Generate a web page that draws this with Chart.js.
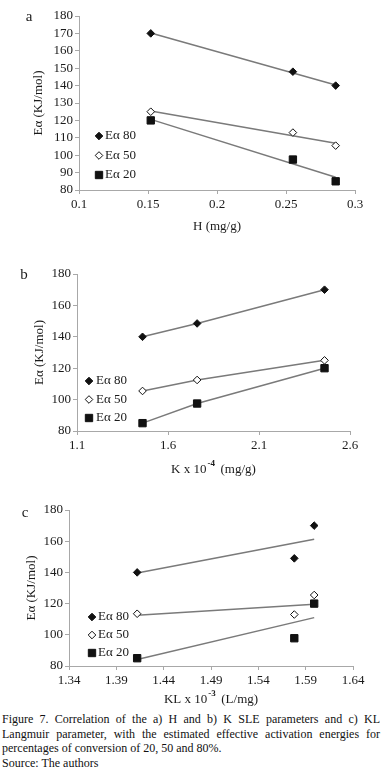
<!DOCTYPE html>
<html>
<head>
<meta charset="utf-8">
<script src="https://cdn.jsdelivr.net/npm/chart.js@4.4.0/dist/chart.umd.min.js"></script>
<style>
  body { margin: 0; background: #fff; width: 382px; height: 773px; position: relative; overflow: hidden; }
  .box { position: absolute; left: 0; width: 382px; }
  .caption { position: absolute; left: 2px; width: 378px; top: 712px; font: 12px "Liberation Serif", "Times New Roman", serif; color: #111; line-height: 14.5px; }
  .just { text-align: justify; text-align-last: justify; }
</style>
</head>
<body>
<div class="box" style="top:0;height:240px"><canvas id="chartA"></canvas></div>
<div class="box" style="top:245px;height:240px"><canvas id="chartB"></canvas></div>
<div class="box" style="top:495px;height:215px"><canvas id="chartC"></canvas></div>
<div class="caption">
  <div class="just">Figure 7. Correlation of the a) H and b) K SLE parameters and c) KL</div>
  <div class="just">Langmuir parameter, with the estimated effective activation energies for</div>
  <div>percentages of conversion of 20, 50 and 80%.</div>
  <div>Source: The authors</div>
</div>
<script>
const seriesNames = ['Eα 80', 'Eα 50', 'Eα 20'];

// a) H (mg/g)
const hValues = [0.152, 0.255, 0.286];
const hEa80 = [170, 148, 140];
const hEa50 = [125, 113, 105.5];
const hEa20 = [120, 97.5, 85];
const hTrendX = [0.152, 0.286];
const hTrend80 = [170.2, 140.4];
const hTrend50 = [125.4, 106.9];
const hTrend20 = [120.6, 87.3];
const hTicks = [0.1, 0.15, 0.2, 0.25, 0.3];
const hEaTicks = [80, 90, 100, 110, 120, 130, 140, 150, 160, 170, 180];

// b) K x 10^-4 (mg/g)
const kValues = [1.46, 1.76, 2.46];
const kEa80 = [140, 148.5, 170];
const kEa50 = [105.5, 112.5, 125];
const kEa20 = [85, 97.5, 120];
const kTicks = [1.1, 1.6, 2.1, 2.6];
const kEaTicks = [80, 100, 120, 140, 160, 180];

// c) KL x 10^-3 (L/mg)
const klValues = [1.412, 1.578, 1.599];
const klEa80 = [140, 149, 170];
const klEa50 = [113.5, 113, 125.5];
const klEa20 = [85, 97.8, 120];
const klTrendX = [1.412, 1.599];
const klTrend80 = [139.6, 161.2];
const klTrend50 = [112.6, 119.6];
const klTrend20 = [84.2, 111];
const klTicks = [1.34, 1.39, 1.44, 1.49, 1.54, 1.59, 1.64];
const klEaTicks = [80, 100, 120, 140, 160, 180];

const black = '#111';
const lineGrey = '#7a7a7a';
const axisGrey = '#a8a8a8';
const serif = 'Liberation Serif';
const textColor = '#1a1a1a';

function drawMarker(ctx, ds, x, y) {
    const r = ds.pointRadius;
    ctx.save();
    ctx.beginPath();
    if (ds.pointStyle === 'rect') {
        const s = r * Math.SQRT1_2;
        ctx.rect(x - s, y - s, 2 * s, 2 * s);
    } else {
        ctx.moveTo(x, y - r);
        ctx.lineTo(x + r, y);
        ctx.lineTo(x, y + r);
        ctx.lineTo(x - r, y);
        ctx.closePath();
    }
    ctx.fillStyle = ds.backgroundColor;
    ctx.strokeStyle = ds.borderColor;
    ctx.lineWidth = ds.borderWidth;
    ctx.fill();
    ctx.stroke();
    ctx.restore();
}

// legend sitting inside the plot, like the original
const insideLegend = {
    id: 'insideLegend',
    afterDatasetsDraw(chart, args, opts) {
        const ctx = chart.ctx;
        const items = chart.data.datasets.filter(ds => ds.label);
        ctx.save();
        ctx.font = '13px "' + serif + '"';
        ctx.textBaseline = 'middle';
        items.forEach((ds, i) => {
            const y = opts.y + i * opts.gap;
            drawMarker(ctx, ds, opts.x, y);
            ctx.fillStyle = textColor;
            ctx.fillText(ds.label, opts.textX, y);
        });
        ctx.restore();
    }
};

// panel letter and x axis title (with superscript)
const paneText = {
    id: 'paneText',
    afterDraw(chart, args, opts) {
        const ctx = chart.ctx;
        const area = chart.chartArea;
        ctx.save();
        ctx.fillStyle = textColor;
        ctx.textBaseline = 'middle';
        ctx.textAlign = 'center';
        ctx.font = '15px "' + serif + '"';
        ctx.fillText(opts.letter, opts.letterX, opts.letterY);

        const mainFont = '13px "' + serif + '"';
        const supFont = 'bold 9px "' + serif + '"';
        ctx.textAlign = 'left';
        ctx.font = mainFont;
        const w1 = ctx.measureText(opts.main).width;
        const w3 = ctx.measureText(opts.after).width;
        ctx.font = supFont;
        const w2 = opts.sup ? ctx.measureText(opts.sup).width : 0;
        let x = (area.left + area.right) / 2 - (w1 + w2 + w3) / 2;
        ctx.font = mainFont;
        ctx.fillText(opts.main, x, opts.titleY);
        x += w1;
        if (opts.sup) {
            ctx.font = supFont;
            ctx.fillText(opts.sup, x + 1, opts.titleY - 6);
            x += w2;
        }
        ctx.font = mainFont;
        ctx.fillText(opts.after, x, opts.titleY);
        ctx.restore();
    }
};

function markerSets(xs, ys80, ys50, ys20) {
    const pts = ys => xs.map((x, i) => ({ x: x, y: ys[i] }));
    return [
        { label: seriesNames[0], data: pts(ys80), pointStyle: 'rectRot', pointRadius: 3.8, pointBorderWidth: 1,
          backgroundColor: black, borderColor: black, borderWidth: 1, showLine: false, order: 0 },
        { label: seriesNames[1], data: pts(ys50), pointStyle: 'rectRot', pointRadius: 3.8, pointBorderWidth: 1,
          backgroundColor: '#fff', borderColor: black, borderWidth: 1, showLine: false, order: 0 },
        { label: seriesNames[2], data: pts(ys20), pointStyle: 'rect', pointRadius: 5.2, pointBorderWidth: 1,
          backgroundColor: black, borderColor: black, borderWidth: 1, showLine: false, order: 0 }
    ];
}

function lineSet(xs, ys) {
    return {
        label: '',
        data: xs.map((x, i) => ({ x: x, y: ys[i] })),
        showLine: true,
        pointRadius: 0,
        borderColor: lineGrey,
        borderWidth: 1.5,
        order: 1
    };
}

function makeChart(id, cfg) {
    const tickFont = { family: serif, size: 13 };
    new Chart(document.getElementById(id), {
        type: 'scatter',
        data: { datasets: cfg.datasets },
        options: {
            responsive: true,
            maintainAspectRatio: false,
            animation: false,
            layout: { padding: { left: 0, top: cfg.top, right: 382 - cfg.right, bottom: 0 } },
            plugins: {
                legend: { display: false },
                tooltip: { enabled: false },
                insideLegend: cfg.legend,
                paneText: cfg.text
            },
            scales: {
                x: {
                    type: 'linear',
                    min: cfg.xTicks[0],
                    max: cfg.xTicks[cfg.xTicks.length - 1],
                    afterBuildTicks: s => { s.ticks = cfg.xTicks.map(v => ({ value: v })); },
                    afterFit: s => { s.height = cfg.height - cfg.bottom; },
                    border: { color: axisGrey, width: 1 },
                    grid: { drawOnChartArea: false, tickLength: 4, color: axisGrey },
                    ticks: { font: tickFont, color: textColor, padding: 3, maxRotation: 0, autoSkip: false,
                             callback: v => String(v) }
                },
                y: {
                    type: 'linear',
                    min: cfg.yTicks[0],
                    max: cfg.yTicks[cfg.yTicks.length - 1],
                    afterBuildTicks: s => { s.ticks = cfg.yTicks.map(v => ({ value: v })); },
                    afterFit: s => { s.width = cfg.left; },
                    border: { color: axisGrey, width: 1 },
                    grid: { drawOnChartArea: false, tickLength: 4, color: axisGrey },
                    ticks: { font: tickFont, color: textColor, padding: 2, autoSkip: false,
                             callback: v => String(v) },
                    title: { display: true, text: 'Eα (KJ/mol)', font: tickFont, color: textColor,
                             padding: { top: cfg.yTitleX - 7.8, bottom: 0 } }
                }
            }
        },
        plugins: [insideLegend, paneText]
    });
}

makeChart('chartA', {
    datasets: markerSets(hValues, hEa80, hEa50, hEa20).concat([
        lineSet(hTrendX, hTrend80), lineSet(hTrendX, hTrend50), lineSet(hTrendX, hTrend20)
    ]),
    xTicks: hTicks, yTicks: hEaTicks,
    height: 240, top: 16, bottom: 190, left: 79, right: 355, yTitleX: 39,
    legend: { x: 99, textX: 105, y: 136, gap: 19.5 },
    text: { letter: 'a', letterX: 29, letterY: 17, main: 'H (mg/g)', sup: '', after: '', titleY: 227 }
});

makeChart('chartB', {
    datasets: markerSets(kValues, kEa80, kEa50, kEa20).concat([
        lineSet(kValues, kEa80), lineSet(kValues, kEa50), lineSet(kValues, kEa20)
    ]),
    xTicks: kTicks, yTicks: kEaTicks,
    height: 240, top: 29, bottom: 186, left: 77, right: 350, yTitleX: 40,
    legend: { x: 89, textX: 96, y: 136, gap: 18.5 },
    text: { letter: 'b', letterX: 24, letterY: 30, main: 'K x 10', sup: '-4', after: '  (mg/g)', titleY: 225 }
});

makeChart('chartC', {
    datasets: markerSets(klValues, klEa80, klEa50, klEa20).concat([
        lineSet(klTrendX, klTrend80), lineSet(klTrendX, klTrend50), lineSet(klTrendX, klTrend20)
    ]),
    xTicks: klTicks, yTicks: klEaTicks,
    height: 215, top: 15, bottom: 171, left: 69, right: 353, yTitleX: 32,
    legend: { x: 92, textX: 98, y: 122, gap: 18 },
    text: { letter: 'c', letterX: 25, letterY: 18, main: 'KL x 10', sup: '-3', after: '  (L/mg)', titleY: 205 }
});
</script>
</body>
</html>
